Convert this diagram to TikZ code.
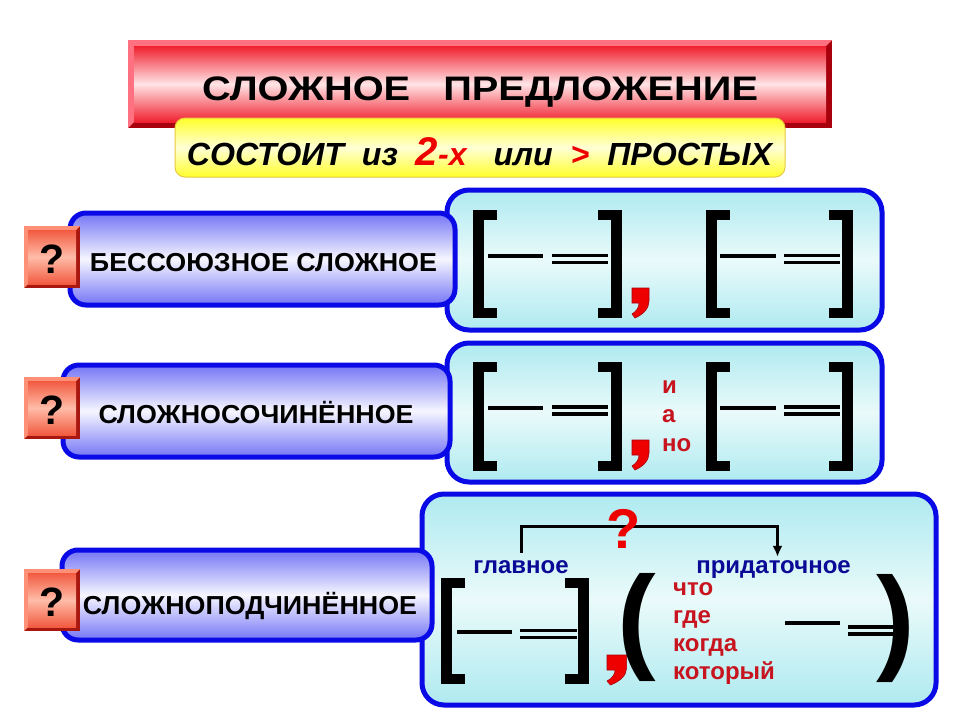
\documentclass[tikz,border=0pt]{standalone}
\usepackage{fontspec}
\setmainfont{Liberation Sans}
\usepackage{graphicx}
\usetikzlibrary{arrows.meta}
\definecolor{titdark}{HTML}{A8000C}
\definecolor{titlight}{HTML}{FF7080}
\definecolor{titred}{HTML}{F0202E}
\definecolor{titpink}{HTML}{FFE4E6}
\definecolor{ylwedge}{HTML}{FFFF2A}
\definecolor{ylwmid}{HTML}{FFFFD6}
\definecolor{ylwline}{HTML}{E8C840}
\definecolor{pillb}{HTML}{0A0AE6}
\definecolor{pillf}{HTML}{7474F6}
\definecolor{pillm}{HTML}{F6F6FF}
\definecolor{cyanf}{HTML}{AEEAF0}
\definecolor{cyanm}{HTML}{EAFAFA}
\definecolor{qdark}{HTML}{A81810}
\definecolor{qlight}{HTML}{FF9078}
\definecolor{qedge}{HTML}{F25A40}
\definecolor{qmid}{HTML}{FFBCA8}
\definecolor{navy}{HTML}{0A0A96}
\definecolor{wred}{HTML}{C8141E}
\definecolor{bred}{HTML}{EE0000}
\newcommand{\Lbr}[3]{\fill (#1,#2) rectangle (#1+11,#3);
  \fill (#1,#2) rectangle (#1+24,#2+10);
  \fill (#1,#3-10) rectangle (#1+24,#3);}
\newcommand{\Rbr}[3]{\fill (#1-11,#2) rectangle (#1,#3);
  \fill (#1-24,#2) rectangle (#1,#2+10);
  \fill (#1-24,#3-10) rectangle (#1,#3);}
\newcommand{\Sing}[3]{\fill (#1,#3-2) rectangle (#2,#3+2);}
\newcommand{\Dbl}[3]{\fill (#1,#3-1.75) rectangle (#2,#3+1.75);
  \fill (#1,#3+5.25) rectangle (#2,#3+8.75);}
\newcommand{\Comma}[3]{\filldraw[commast, shift={(#1,#2)}, xscale=#3]
  (0,0) -- (17,0) -- (17,13) .. controls (17,20) and (12,26) .. (3,30)
  -- (0,26) .. controls (5,23) and (7,19) .. (7,15) -- (0,15) -- cycle;}
\newcommand{\Qbox}[3]{%
  \fill[qdark] (#2,#3) rectangle ++(56,62);
  \fill[qlight] (#2,#3) -- ++(56,0) -- ++(-4,4) -- ++(-48,0) -- ++(0,54) -- ++(-4,4) -- cycle;
  \shade[top color=qedge, bottom color=qedge, middle color=qmid] (#2+4,#3+4) rectangle (#2+52,#3+58);
  \node[qmark] (#1) at (#2+28,#3+47) {?};}
\begin{document}
\begin{tikzpicture}[x=1pt,y=-1pt,
  pill/.style={draw=pillb, line width=5pt, rounded corners=16pt,
    top color=pillf, bottom color=pillf, middle color=pillm},
  cbox/.style={draw=pillb, line width=5pt, rounded corners=22pt,
    top color=cyanf, bottom color=cyanf, middle color=cyanm},
  lbl/.style={font=\bfseries\fontsize{26}{26}\selectfont, inner sep=0pt, anchor=base},
  qmark/.style={font=\bfseries\fontsize{41}{41}\selectfont, inner sep=0pt, anchor=base},
  conj/.style={font=\bfseries\fontsize{24}{24}\selectfont, text=wred, inner sep=0pt, anchor=base west},
  part/.style={font=\bfseries\fontsize{24}{24}\selectfont, text=navy, inner sep=3pt, anchor=base},
  paren/.style={font=\bfseries\fontsize{116}{116}\selectfont, inner sep=0pt},
  commast/.style={fill=bred, draw=titdark, line width=0.6pt},
  conn/.style={draw=black, line width=3pt, -{Latex[length=11pt,width=10pt]}}]
\useasboundingbox (0,0) rectangle (960,720);
\fill[white] (0,0) rectangle (960,720);
% title
\fill[titdark] (128,40) rectangle (832,128);
\fill[titlight] (128,40) -- (832,40) -- (826,46) -- (134,46) -- (134,122) -- (128,128) -- cycle;
\shade[top color=titred, bottom color=titred, middle color=titpink] (134,46) rectangle (826,122);
\node[font=\bfseries\fontsize{34}{34}\selectfont, inner sep=0pt, anchor=base] (title) at (480,100)
  {\resizebox{556pt}{\height}{СЛОЖНОЕ\ \ \ ПРЕДЛОЖЕНИЕ}};
% yellow
\path[draw=ylwline, line width=1pt, rounded corners=10pt, top color=ylwedge, bottom color=ylwedge, middle color=ylwmid]
  (175,118) rectangle (785,177);
\node[font=\bfseries\itshape\fontsize{32}{32}\selectfont, inner sep=0pt, anchor=base] (sub) at (479.5,165)
  {\resizebox{585pt}{\height}{СОСТОИТ\ \ из\ \ {\color{bred}\fontsize{40}{40}\selectfont 2}{\color{bred}-х}\ \ \ или\ \ {\color{bred}>}\ \ ПРОСТЫХ}};
% right boxes
\path[cbox] (447,190) rectangle (882,330);
\path[cbox] (447,343) rectangle (882,482);
\path[cbox] (422,494) rectangle (936,705);
% pills
\path[pill] (70,213) rectangle (455,305);
\path[pill] (63,365) rectangle (450,457);
\path[pill] (62,550) rectangle (432,640);
% question boxes
\Qbox{q1}{24}{226}
\Qbox{q2}{24}{377}
\Qbox{q3}{24}{569}
% labels
\node[lbl] (l1) at (263.5,271) {\resizebox{347pt}{\height}{БЕССОЮЗНОЕ СЛОЖНОЕ}};
\node[lbl] (l2) at (256,423) {\resizebox{315pt}{\height}{СЛОЖНОСОЧИНЁННОЕ}};
\node[lbl] (l3) at (250,614) {\resizebox{334pt}{\height}{СЛОЖНОПОДЧИНЁННОЕ}};
% row 1 schema
\Lbr{473}{210}{318} \Rbr{622}{210}{318}
\Sing{488}{543}{256} \Dbl{552}{608}{255.5}
\Lbr{706}{210}{318} \Rbr{853}{210}{318}
\Sing{720}{776}{256} \Dbl{784}{840}{255.5}
\Comma{632}{288}{1}
% row 2 schema
\Lbr{473}{362}{471} \Rbr{622}{362}{471}
\Sing{488}{543}{408} \Dbl{552}{608}{407}
\Lbr{706}{362}{471} \Rbr{853}{362}{471}
\Sing{720}{776}{408} \Dbl{784}{840}{407}
\Comma{632}{440}{1}
\node[conj] (ci) at (662,393) {и};
\node[conj] (ca) at (662,422) {а};
\node[conj] (cn) at (662,451) {но};
% row 3 schema
\Lbr{441}{578}{684} \Rbr{589}{578}{684}
\Sing{457}{512}{632} \Dbl{520}{577}{630.5}
\Comma{607}{655}{1.15}
\node[paren] (lp) at (637,627) {(};
\node[paren] (rp) at (896,628) {)};
\Sing{785}{840}{623} \Dbl{848}{903}{627}
\node[conj] (w1) at (673,595) {что};
\node[conj] (w2) at (673,623) {где};
\node[conj] (w3) at (673,651) {когда};
\node[conj] (w4) at (673,679) {который};
\node[part] (glav) at (521,573) {главное};
\node[part] (prid) at (773.5,573) {придаточное};
\draw[conn] ([yshift=4pt]glav.north) -- ++(0,-26) -| ([xshift=4pt]prid.north);
\node[font=\bfseries\fontsize{56}{56}\selectfont, text=bred, inner sep=0pt, anchor=base] (qq) at (624,548) {?};
\end{tikzpicture}
\end{document}
